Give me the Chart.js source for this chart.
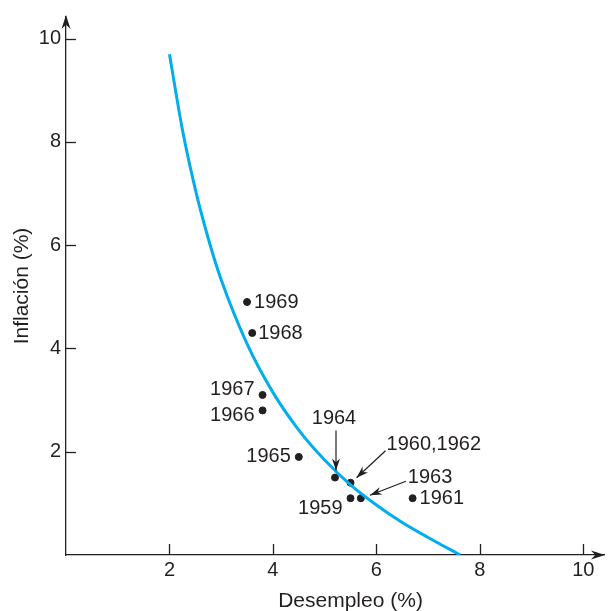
<!DOCTYPE html>
<html>
<head>
<meta charset="utf-8">
<script src="https://cdn.jsdelivr.net/npm/chart.js@4"></script>
<style>
  body { margin: 0; background: #fff; }
  #wrap { width: 609px; height: 611px; }
</style>
</head>
<body>
<div id="wrap"><canvas id="phillips" width="609" height="611"></canvas></div>
<script>
// Curva de Phillips
var curveX = [2.0, 2.25, 2.5, 2.75, 3.0, 3.5, 4.0, 4.5, 5.0, 5.5, 6.0, 6.5, 7.0, 7.62];
var curveY = [9.70, 8.24, 7.08, 6.13, 5.33, 4.09, 3.15, 2.42, 1.84, 1.36, 0.97, 0.63, 0.34, 0];

// Observaciones anuales
var years = ['1959', '1960,1962', '1961', '1963', '1964', '1965', '1966', '1967', '1968', '1969'];
var unemployment = [5.5, 5.5, 6.7, 5.7, 5.2, 4.5, 3.8, 3.8, 3.6, 3.5];
var inflation = [1.1, 1.4, 1.1, 1.1, 1.5, 1.9, 2.8, 3.1, 4.3, 4.9];

var tickValues = [2, 4, 6, 8, 10];

// where each year label sits relative to its dot (pixels)
var labelStyle = {
    '1959':      { align: 'right', dx: -8, dy: 10 },
    '1960,1962': { align: 'left', dx: 36, dy: -38, arrow: [35, -32, 6, -5] },
    '1961':      { align: 'left', dx: 7, dy: 0 },
    '1963':      { align: 'left', dx: 47, dy: -21, arrow: [45, -17, 9, -3] },
    '1964':      { align: 'center', dx: -1, dy: -59, arrow: [1, -47, 1, -7] },
    '1965':      { align: 'right', dx: -8, dy: 0 },
    '1966':      { align: 'right', dx: -8, dy: 5 },
    '1967':      { align: 'right', dx: -8, dy: -5 },
    '1968':      { align: 'left', dx: 6, dy: 0 },
    '1969':      { align: 'left', dx: 7, dy: 0 }
};

var ink = '#231f20';
var fontFam = '"Liberation Sans", Arial, Helvetica, sans-serif';

function arrowHead(ctx, x1, y1, x2, y2, len, half) {
    var a = Math.atan2(y2 - y1, x2 - x1);
    ctx.beginPath();
    ctx.moveTo(x2, y2);
    ctx.lineTo(x2 - len * Math.cos(a) + half * Math.sin(a), y2 - len * Math.sin(a) - half * Math.cos(a));
    ctx.lineTo(x2 - len * 0.7 * Math.cos(a), y2 - len * 0.7 * Math.sin(a));
    ctx.lineTo(x2 - len * Math.cos(a) - half * Math.sin(a), y2 - len * Math.sin(a) + half * Math.cos(a));
    ctx.closePath();
    ctx.fill();
}

var decor = {
    id: 'decor',
    afterDatasetsDraw: function (chart) {
        var ctx = chart.ctx;
        var xs = chart.scales.x, ys = chart.scales.y;
        var area = chart.chartArea;
        ctx.save();
        ctx.strokeStyle = ink;
        ctx.fillStyle = ink;
        ctx.lineWidth = 1.3;

        // inward tick marks
        tickValues.forEach(function (v) {
            var px = Math.round(xs.getPixelForValue(v)) + 0.5;
            ctx.beginPath();
            ctx.moveTo(px, area.bottom);
            ctx.lineTo(px, area.bottom - 11);
            ctx.stroke();
            var py = Math.round(ys.getPixelForValue(v)) + 0.5;
            ctx.beginPath();
            ctx.moveTo(area.left, py);
            ctx.lineTo(area.left + 10, py);
            ctx.stroke();
        });

        // arrowheads at the axis ends
        arrowHead(ctx, area.left, area.bottom, area.left, area.top - 2, 14, 4.5);
        arrowHead(ctx, area.left, area.bottom, area.right + 1, area.bottom, 14, 4.5);

        // x axis title, set off-centre as in the original
        ctx.font = '21px ' + fontFam;
        ctx.textAlign = 'center';
        ctx.textBaseline = 'middle';
        ctx.fillText('Desempleo (%)', xs.getPixelForValue(5.5), 601);

        // year labels and pointer arrows
        ctx.font = '20px ' + fontFam;
        years.forEach(function (yr, i) {
            var st = labelStyle[yr];
            var px = xs.getPixelForValue(unemployment[i]);
            var py = ys.getPixelForValue(inflation[i]);
            ctx.textAlign = st.align;
            ctx.fillText(yr, px + st.dx, py + st.dy);
            if (st.arrow) {
                var a = st.arrow;
                ctx.lineWidth = 1.2;
                ctx.beginPath();
                ctx.moveTo(px + a[0], py + a[1]);
                ctx.lineTo(px + a[2], py + a[3]);
                ctx.stroke();
                arrowHead(ctx, px + a[0], py + a[1], px + a[2], py + a[3], 12, 4);
            }
        });
        ctx.restore();
    }
};

var ctx = document.getElementById('phillips').getContext('2d');
var chart = new Chart(ctx, {
    type: 'scatter',
    data: {
        datasets: [{
            // curva
            data: curveX.map(function (x, i) { return { x: x, y: curveY[i] }; }),
            showLine: true,
            borderColor: '#00aeef',
            borderWidth: 3,
            pointRadius: 0,
            cubicInterpolationMode: 'monotone',
            fill: false
        }, {
            // puntos
            data: unemployment.map(function (x, i) { return { x: x, y: inflation[i] }; }),
            backgroundColor: ink,
            borderColor: ink,
            pointRadius: 3.5,
            showLine: false
        }]
    },
    options: {
        responsive: false,
        animation: false,
        layout: { padding: { top: 13, right: 2, left: 0, bottom: 0 } },
        plugins: {
            legend: { display: false },
            tooltip: { enabled: false }
        },
        scales: {
            x: {
                type: 'linear',
                min: 0,
                max: 10.4,
                afterBuildTicks: function (s) { s.ticks = tickValues.map(function (v) { return { value: v }; }); },
                afterFit: function (s) { s.height = 56; },
                grid: { display: false, drawTicks: false },
                border: { display: true, color: ink, width: 1.3 },
                ticks: { color: ink, font: { family: fontFam, size: 20 }, padding: 3, maxRotation: 0 },
                title: { display: false }
            },
            y: {
                type: 'linear',
                min: 0,
                max: 10.42,
                afterBuildTicks: function (s) { s.ticks = tickValues.map(function (v) { return { value: v }; }); },
                afterFit: function (s) { s.width = 66; },
                grid: { display: false, drawTicks: false },
                border: { display: true, color: ink, width: 1.3 },
                ticks: { color: ink, font: { family: fontFam, size: 20 }, padding: 5 },
                title: {
                    display: true,
                    text: 'Inflación (%)',
                    color: ink,
                    font: { family: fontFam, size: 21 },
                    padding: { top: 10, bottom: 0 }
                }
            }
        }
    },
    plugins: [decor]
});
</script>
</body>
</html>
